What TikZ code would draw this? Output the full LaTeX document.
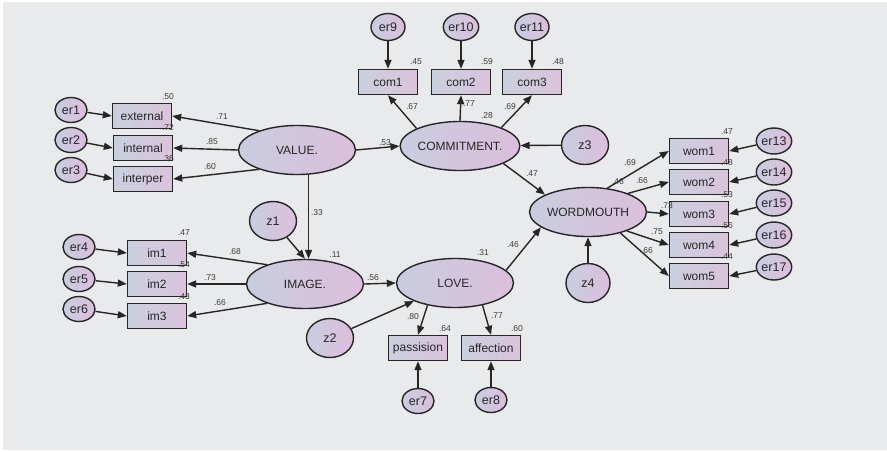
\documentclass[tikz,border=0pt]{standalone}
\usepackage{fontspec}
\setmainfont{Liberation Sans}
\usetikzlibrary{shapes.geometric,arrows.meta}
\definecolor{bg}{HTML}{E9EAEC}
\definecolor{latL}{HTML}{C8CDDF}
\definecolor{latR}{HTML}{DCBEDD}
\definecolor{boxL}{HTML}{C9D0DE}
\definecolor{boxR}{HTML}{DAC3DA}
\definecolor{ink}{HTML}{262626}
\definecolor{numc}{HTML}{3A3A3A}
\tikzset{
  lat/.style={ellipse,draw=ink,line width=1.4pt,left color=latL,right color=latR,
    minimum width=117pt,minimum height=49pt,inner sep=0pt,text=ink,font=\fontsize{12}{12}\selectfont},
  obs/.style={rectangle,draw=ink,line width=1.4pt,left color=boxL,right color=boxR,
    minimum width=59pt,minimum height=25pt,inner sep=0pt,text=ink,font=\fontsize{12}{12}\selectfont},
  errn/.style={ellipse,draw=ink,line width=1.4pt,left color=latL,right color=latR,
    minimum width=32pt,minimum height=25pt,inner sep=0pt,text=ink,font=\fontsize{12.5}{12.5}\selectfont},
  dist/.style={ellipse,draw=ink,line width=1.4pt,left color=latL,right color=latR,
    minimum width=47pt,minimum height=39pt,inner sep=0pt,text=ink,font=\fontsize{12.5}{12.5}\selectfont},
  num/.style={text=numc,inner sep=0pt,font=\fontsize{8.5}{8.5}\selectfont},
  arr/.style={draw=ink,line width=1.4pt,-{Triangle[length=9pt,width=7pt]}}
}
\begin{document}
\begin{tikzpicture}[x=1pt,y=-1pt]
\useasboundingbox (0,0) rectangle (887,451);
\fill[white] (0,0) rectangle (887,451);
\fill[bg] (3,2) rectangle (887,450);
\draw[color=black!9,line width=1pt] (717,2) -- (717,450);

% latent variables
\node[lat] (value) at (297,150) {VALUE.};
\node[lat] (commit) at (460,146) {COMMITMENT.};
\node[lat] (wordmouth) at (588,212) {WORDMOUTH};
\node[lat] (image) at (305,284) {IMAGE.};
\node[lat] (love) at (455,283) {LOVE.};

% disturbances
\node[dist] (z1) at (273,221) {z1};
\node[dist] (z2) at (330,338) {z2};
\node[dist] (z3) at (585,145) {z3};
\node[dist,minimum width=44pt] (z4) at (588,283) {z4};

% observed: value
\node[obs] (external) at (142,116) {external};
\node[obs] (internal) at (143,148) {internal};
\node[obs] (interper) at (143,179) {interper};
\node[errn] (er1) at (71,110) {er1};
\node[errn] (er2) at (71,140) {er2};
\node[errn] (er3) at (71,170) {er3};

% observed: image
\node[obs] (im1) at (157,253) {im1};
\node[obs] (im2) at (157,284) {im2};
\node[obs] (im3) at (157,316) {im3};
\node[errn] (er4) at (79,247) {er4};
\node[errn] (er5) at (79,279) {er5};
\node[errn] (er6) at (79,309) {er6};

% observed: commitment
\node[obs] (com1) at (388,82) {com1};
\node[obs] (com2) at (461,82) {com2};
\node[obs] (com3) at (532,82) {com3};
\node[errn,minimum width=34pt,minimum height=27pt] (er9) at (388,27) {er9};
\node[errn,minimum width=34pt,minimum height=27pt] (er10) at (461,27) {er10};
\node[errn,minimum width=34pt,minimum height=27pt] (er11) at (532,27) {er11};

% observed: love
\node[obs] (passision) at (418,348) {passision};
\node[obs] (affection) at (491,348) {affection};
\node[errn] (er7) at (418,401) {er7};
\node[errn] (er8) at (491,400) {er8};

% observed: wordmouth
\node[obs] (wom1) at (699,151) {wom1};
\node[obs] (wom2) at (699,182) {wom2};
\node[obs] (wom3) at (699,214) {wom3};
\node[obs] (wom4) at (699,245) {wom4};
\node[obs] (wom5) at (699,276) {wom5};
\node[errn,minimum height=26pt] (er13) at (774,141) {er13};
\node[errn,minimum height=26pt] (er14) at (774,172) {er14};
\node[errn,minimum height=26pt] (er15) at (774,203) {er15};
\node[errn,minimum height=26pt] (er16) at (774,235) {er16};
\node[errn,minimum height=26pt] (er17) at (774,267) {er17};

% connectors
\draw[arr] (value.153) -- (external.east);
\draw[arr] (value.west) -- (internal.east);
\draw[arr] (value.207) -- (interper.east);
\draw[arr] (er1) -- (external.west);
\draw[arr] (er2) -- (internal.west);
\draw[arr] (er3) -- (interper.west);

\draw[arr] (value.east) -- (commit.west);
\draw[arr] (value.-65) -- (value.-65 |- image.north);
\draw[arr] (z1) -- (image.north);

\draw[arr] (image.153) -- (im1.east);
\draw[arr] (image.west) -- (im2.east);
\draw[arr] (image.207) -- (im3.east);
\draw[arr] (er4) -- (im1.west);
\draw[arr] (er5) -- (im2.west);
\draw[arr] (er6) -- (im3.west);

\draw[arr] (commit.158) -- (com1.south);
\draw[arr] (commit.north) -- (com2.south);
\draw[arr] (commit.24) -- (com3.south);
\draw[arr] (er9) -- (com1);
\draw[arr] (er10) -- (com2);
\draw[arr] (er11) -- (com3);
\draw[arr] (z3) -- (commit);

\draw[arr] (commit.-22) -- (wordmouth.158);
\draw[arr] (image.east) -- (love.west);
\draw[arr] (z2) -- (love);
\draw[arr] (love.14) -- (wordmouth.198);
\draw[arr] (love.219) -- (passision.north);
\draw[arr] (love.-39) -- (affection.north);
\draw[arr] (er7) -- (passision);
\draw[arr] (er8) -- (affection);

\draw[arr] (wordmouth.51) -- (wom1.west);
\draw[arr] (wordmouth.25) -- (wom2.west);
\draw[arr] (wordmouth.east) -- (wom3.west);
\draw[arr] (wordmouth.-26) -- (wom4.west);
\draw[arr] (wordmouth.-33) -- (wom5.west);
\draw[arr] (z4) -- (wordmouth);
\draw[arr] (er13) -- (wom1.east);
\draw[arr] (er14) -- (wom2.east);
\draw[arr] (er15) -- (wom3.east);
\draw[arr] (er16) -- (wom4.east);
\draw[arr] (er17) -- (wom5.east);

% numbers
\node[num] (n1) at (168,97) {.50};
\node[num] (n2) at (168,128) {.72};
\node[num] (n3) at (168,159) {.36};
\node[num] (n4) at (222,117) {.71};
\node[num] (n5) at (212,142) {.85};
\node[num] (n6) at (210,167) {.60};
\node[num] (n7) at (385,143) {.53};
\node[num] (n8) at (416,62) {.45};
\node[num] (n9) at (487,62) {.59};
\node[num] (n10) at (558,62) {.48};
\node[num] (n11) at (412,107) {.67};
\node[num] (n12) at (469,104) {.77};
\node[num] (n13) at (510,107) {.69};
\node[num] (n14) at (487,116) {.28};
\node[num] (n15) at (532,174) {.47};
\node[num] (n16) at (630,163) {.69};
\node[num] (n17) at (618,182) {.46};
\node[num] (n18) at (642,181) {.66};
\node[num] (n19) at (667,206) {.73};
\node[num] (n20) at (657,232) {.75};
\node[num] (n21) at (647,251) {.66};
\node[num] (n22) at (727,132) {.47};
\node[num] (n23) at (727,163) {.48};
\node[num] (n24) at (727,195) {.53};
\node[num] (n25) at (727,226) {.56};
\node[num] (n26) at (727,257) {.44};
\node[num] (n27) at (317,213) {.33};
\node[num] (n28) at (335,255) {.11};
\node[num] (n29) at (373,278) {.56};
\node[num] (n30) at (483,253) {.31};
\node[num] (n31) at (513,245) {.46};
\node[num] (n32) at (184,233) {.47};
\node[num] (n33) at (184,265) {.54};
\node[num] (n34) at (184,297) {.43};
\node[num] (n35) at (235,252) {.68};
\node[num] (n36) at (210,278) {.73};
\node[num] (n37) at (220,303) {.66};
\node[num] (n38) at (413,317) {.80};
\node[num] (n39) at (497,316) {.77};
\node[num] (n40) at (445,329) {.64};
\node[num] (n41) at (517,329) {.60};
\end{tikzpicture}
\end{document}
